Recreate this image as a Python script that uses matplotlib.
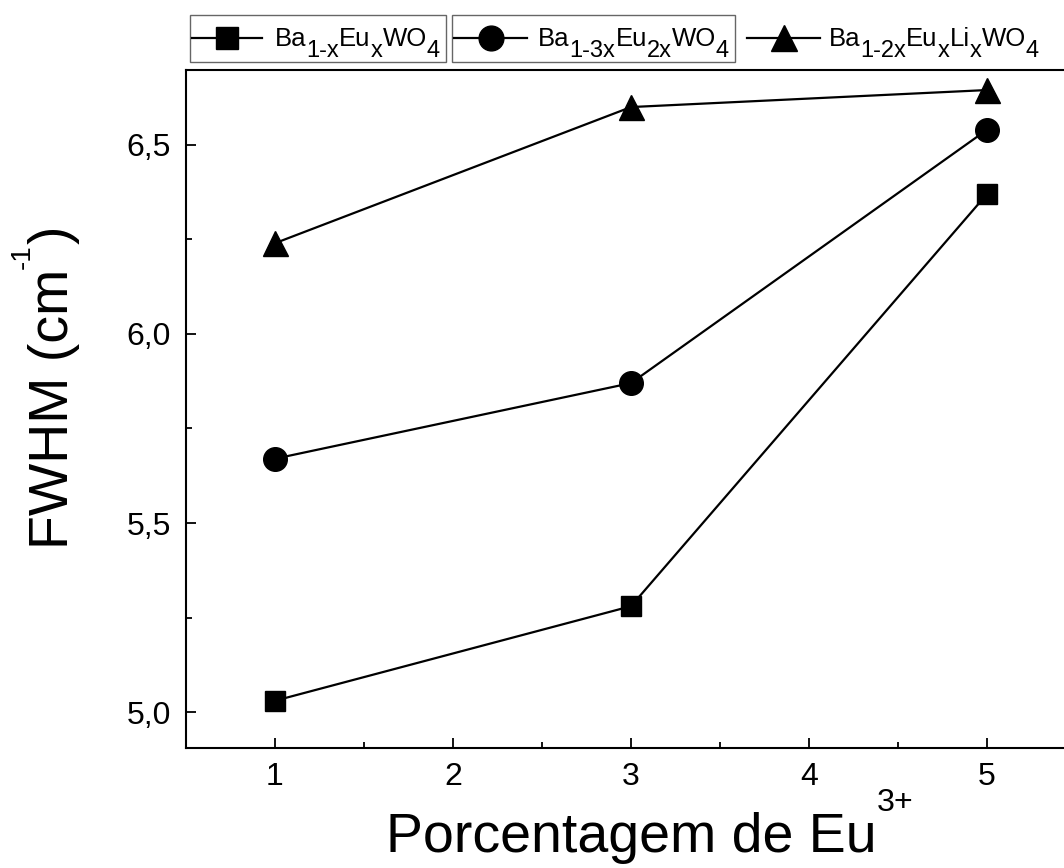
import matplotlib
matplotlib.use("Agg")
import matplotlib.pyplot as plt
from matplotlib.lines import Line2D
from matplotlib.patches import Rectangle
from matplotlib.transforms import IdentityTransform

plt.rcParams['font.family'] = ['Liberation Sans', 'DejaVu Sans']

# FWHM vs Eu3+ content for the three tungstate series
eu_pct = [1, 3, 5]
fwhm_ba_eu = [5.03, 5.28, 6.37]
fwhm_ba_eu2 = [5.67, 5.87, 6.54]
fwhm_ba_eu_li = [6.24, 6.60, 6.645]

# labels split into (text, size scale, baseline rise in em) pieces
SUB = (0.92, -0.42)
leg_labels = [
    [('Ba', 1, 0), ('1-x',) + SUB, ('Eu', 1, 0), ('x',) + SUB,
     ('WO', 1, 0), ('4',) + SUB],
    [('Ba', 1, 0), ('1-3x',) + SUB, ('Eu', 1, 0), ('2x',) + SUB,
     ('WO', 1, 0), ('4',) + SUB],
    [('Ba', 1, 0), ('1-2x',) + SUB, ('Eu', 1, 0), ('x',) + SUB,
     ('Li', 1, 0), ('x',) + SUB, ('WO', 1, 0), ('4',) + SUB],
]
xlabel_parts = [('Porcentagem de Eu', 1, 0), ('3+', 0.58, 0.74)]
ylabel_parts = [('FWHM (cm', 1, 0), ('-1', 0.5, 0.68), (')', 1, 0)]
markers = ['s', 'o', '^']
sizes = [15, 17, 18]

W, H, DPI = 1064, 868, 100
fig = plt.figure(figsize=(W / DPI, H / DPI), dpi=DPI)
pix = IdentityTransform()
ax = fig.add_axes([186/W, 1 - 748/H, (1076 - 186)/W, (748 - 70)/H])

series = [fwhm_ba_eu, fwhm_ba_eu2, fwhm_ba_eu_li]
for ys, m, ms in zip(series, markers, sizes):
    ax.plot(eu_pct, ys, '-', color='black', lw=1.6, marker=m, ms=ms,
            markerfacecolor='black', markeredgecolor='black')

ax.set_xlim(0.5, 5.5)
ax.set_ylim(4.905, 6.698)
ax.set_xticks([1, 2, 3, 4, 5])
ax.set_xticks([1.5, 2.5, 3.5, 4.5], minor=True)
ax.set_yticks([5.0, 5.5, 6.0, 6.5])
ax.set_yticks([5.25, 5.75, 6.25], minor=True)
ax.set_yticklabels(['5,0', '5,5', '6,0', '6,5'])
ax.tick_params(which='both', direction='in', width=1.3, labelsize=23,
               top=False, right=False)
ax.tick_params(which='major', length=7)
ax.tick_params(which='minor', length=4)
ax.tick_params(axis='x', pad=10)
ax.tick_params(axis='y', pad=11)
for s in ax.spines.values():
    s.set_linewidth(1.5)

renderer = fig.canvas.get_renderer()


def draw_parts(x, y, parts, size, vertical=False):
    # lay text pieces along one baseline, returns the end position
    pos = y if vertical else x
    for s, scale, rise in parts:
        dy = rise * size * DPI / 72
        if vertical:
            t = fig.text(x - dy, pos, s, fontsize=size * scale, rotation=90,
                         rotation_mode='anchor', ha='left', va='baseline',
                         transform=pix)
            pos += t.get_window_extent(renderer).height
        else:
            t = fig.text(pos, y + dy, s, fontsize=size * scale, ha='left',
                         va='baseline', transform=pix)
            pos += t.get_window_extent(renderer).width
    return pos


def main_length(text, size, vertical=False):
    t = fig.text(0, 0, text, fontsize=size, rotation=90 if vertical else 0)
    bb = t.get_window_extent(renderer)
    t.remove()
    return bb.height if vertical else bb.width


# axis titles: main text centred on the axes, superscript appended
ax_mid_x = (186 + 1076) / 2
ax_mid_y = H - (70 + 748) / 2
lx = main_length(xlabel_parts[0][0], 40)
draw_parts(ax_mid_x - lx / 2, H - 852, xlabel_parts, 40)
ly = main_length(ylabel_parts[0][0], 40, vertical=True)
draw_parts(68, ax_mid_y - ly / 2, ylabel_parts, 40, vertical=True)

# legend strip above the plot
leg_items = [
    dict(box=(190, 446), line=(192, 262), text=275, frame=True),
    dict(box=(452, 735), line=(454, 527), text=538, frame=True),
    dict(box=None, line=(747, 820), text=829, frame=False),
]
box_top, box_bot = 15, 62
line_y = H - 38
for item, parts, m, ms in zip(leg_items, leg_labels, markers, sizes):
    if item['frame']:
        x0, x1 = item['box']
        fig.add_artist(Rectangle((x0, H - box_bot), x1 - x0, box_bot - box_top,
                                 transform=pix, fill=False, ec='#666666', lw=1.0))
    l0, l1 = item['line']
    fig.add_artist(Line2D([l0, l1], [line_y, line_y], transform=pix,
                          color='black', lw=1.6))
    fig.add_artist(Line2D([(l0 + l1) / 2], [line_y], transform=pix, marker=m,
                          ms=ms * 1.05, color='black', lw=0))
    draw_parts(item['text'], H - 46, parts, 18.5)

fig.savefig('out.png', dpi=DPI)
